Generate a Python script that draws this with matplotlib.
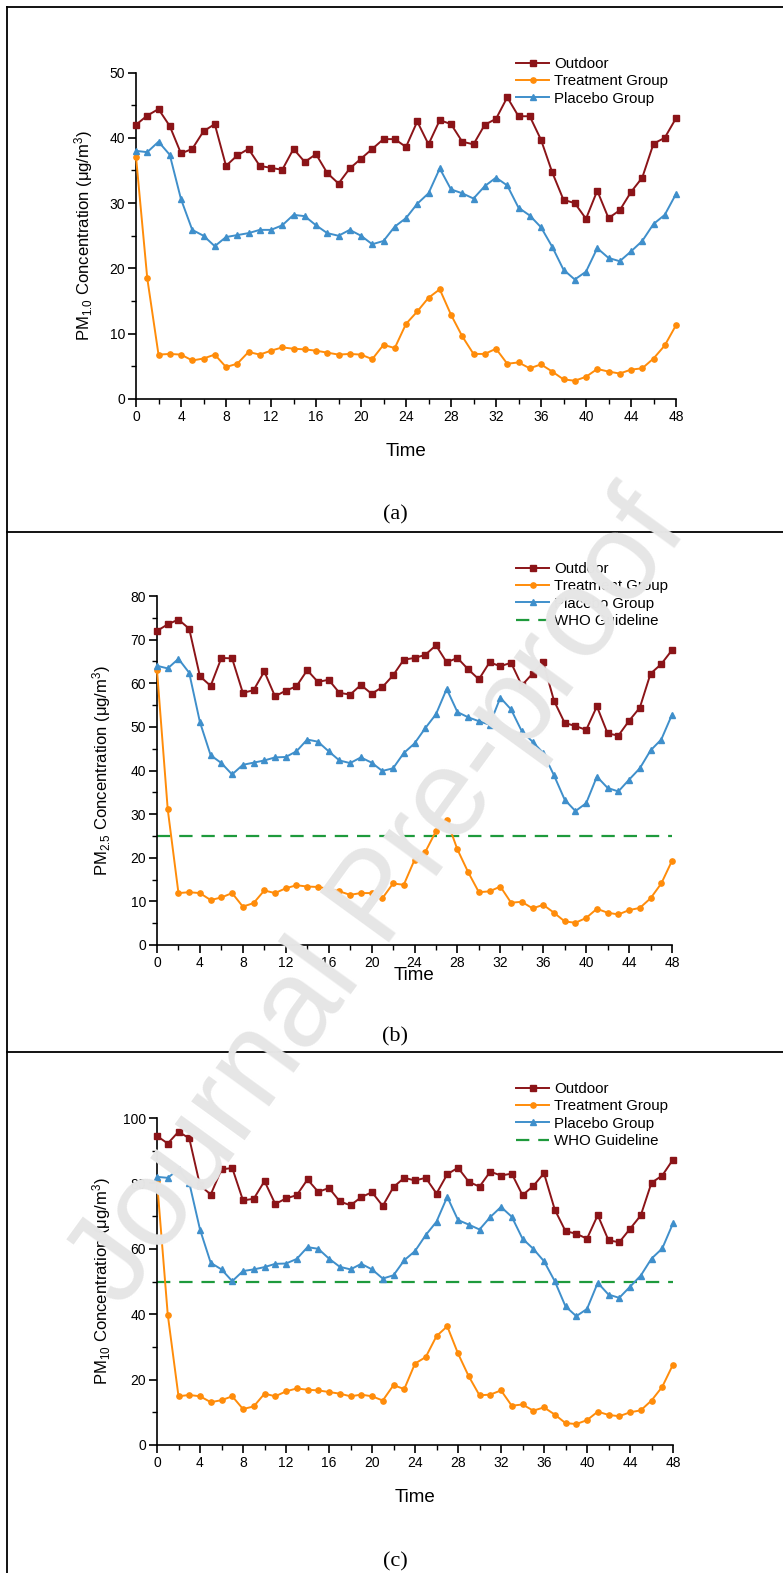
import matplotlib
matplotlib.use("Agg")
import matplotlib.pyplot as plt
from matplotlib.lines import Line2D
from matplotlib.ticker import MultipleLocator

plt.rcParams['font.family'] = ['Liberation Sans', 'DejaVu Sans']
plt.rcParams['mathtext.fontset'] = 'custom'
plt.rcParams['mathtext.rm'] = 'Liberation Sans'
plt.rcParams['mathtext.it'] = 'Liberation Sans:italic'
plt.rcParams['mathtext.bf'] = 'Liberation Sans:bold'

hours = list(range(49))

pm1_outdoor = [42.0, 43.4, 44.4, 41.8, 37.6, 38.3, 41.0, 42.1, 35.7, 37.3, 38.3, 35.7, 35.4, 35.1, 38.3,
               36.3, 37.5, 34.6, 33.0, 35.3, 36.8, 38.3, 39.8, 39.8, 38.6, 42.5, 39.0, 42.7, 42.1, 39.4,
               39.0, 42.0, 42.9, 46.2, 43.3, 43.3, 39.7, 34.7, 30.5, 30.0, 27.6, 31.9, 27.7, 28.9, 31.7,
               33.9, 39.1, 40.0, 43.0]
pm1_treatment = [37.1, 18.5, 6.8, 6.9, 6.8, 5.9, 6.2, 6.8, 4.9, 5.4, 7.2, 6.8, 7.4, 7.9, 7.7, 7.6, 7.4,
                 7.1, 6.8, 6.9, 6.8, 6.1, 8.3, 7.8, 11.5, 13.4, 15.5, 16.8, 12.9, 9.6, 6.9, 6.9, 7.7,
                 5.4, 5.6, 4.7, 5.3, 4.2, 3.0, 2.8, 3.4, 4.6, 4.2, 3.9, 4.5, 4.7, 6.2, 8.2, 11.3]
pm1_placebo = [38.0, 37.8, 39.4, 37.4, 30.6, 25.9, 25.0, 23.4, 24.8, 25.1, 25.4, 25.9, 25.9, 26.6, 28.2,
               28.0, 26.6, 25.4, 25.0, 25.9, 25.0, 23.7, 24.2, 26.4, 27.7, 29.9, 31.5, 35.3, 32.1, 31.5,
               30.7, 32.6, 33.9, 32.7, 29.3, 28.1, 26.3, 23.3, 19.8, 18.3, 19.5, 23.1, 21.6, 21.1, 22.6,
               24.2, 26.8, 28.2, 31.4]

pm25_outdoor = [72.0, 73.5, 74.6, 72.5, 61.6, 59.4, 65.8, 65.7, 57.8, 58.4, 62.7, 57.0, 58.3, 59.3, 63.0,
                60.3, 60.8, 57.8, 57.4, 59.6, 57.6, 59.1, 61.8, 65.4, 65.8, 66.5, 68.7, 64.8, 65.8, 63.2,
                60.9, 64.8, 63.9, 64.7, 59.5, 62.2, 64.8, 56.0, 50.9, 50.2, 49.3, 54.7, 48.5, 48.0, 51.4,
                54.4, 62.2, 64.4, 67.6]
pm25_treatment = [63.0, 31.1, 11.9, 12.1, 11.9, 10.3, 10.9, 11.9, 8.8, 9.6, 12.5, 11.9, 13.0, 13.7, 13.4,
                  13.3, 12.9, 12.3, 11.5, 11.9, 11.9, 10.7, 14.1, 13.8, 19.5, 21.3, 26.1, 28.7, 21.9, 16.7,
                  12.1, 12.3, 13.4, 9.7, 9.9, 8.4, 9.2, 7.4, 5.4, 5.1, 6.2, 8.3, 7.4, 7.0, 8.0, 8.5, 10.7,
                  14.1, 19.3]
pm25_placebo = [64.0, 63.4, 65.6, 62.4, 51.1, 43.5, 41.7, 39.1, 41.3, 41.8, 42.3, 43.0, 43.1, 44.4, 47.1,
                46.6, 44.4, 42.3, 41.7, 43.0, 41.8, 39.9, 40.5, 44.0, 46.2, 49.7, 52.9, 58.7, 53.4, 52.2,
                51.3, 50.5, 56.7, 54.0, 49.0, 46.6, 44.0, 38.9, 33.3, 30.7, 32.5, 38.6, 36.0, 35.2, 37.9,
                40.5, 44.6, 47.1, 52.8]

pm10_outdoor = [94.5, 92.2, 95.8, 93.8, 79.4, 76.6, 84.3, 84.7, 74.8, 75.3, 80.7, 73.7, 75.4, 76.4, 81.2,
                77.4, 78.6, 74.5, 73.3, 75.8, 77.3, 73.1, 78.9, 81.7, 80.9, 81.7, 76.9, 82.8, 84.8, 80.5,
                79.0, 83.6, 82.4, 83.0, 76.4, 79.2, 83.1, 72.0, 65.4, 64.6, 63.1, 70.3, 62.6, 62.0, 66.1,
                70.2, 80.2, 82.4, 87.3]
pm10_treatment = [80.7, 39.9, 14.9, 15.3, 14.9, 13.1, 13.7, 14.9, 11.0, 11.8, 15.7, 14.9, 16.4, 17.3, 16.9,
                  16.7, 16.2, 15.7, 14.9, 15.4, 14.9, 13.6, 18.3, 17.1, 24.9, 26.9, 33.3, 36.3, 28.0, 21.0,
                  15.2, 15.4, 16.7, 12.0, 12.4, 10.5, 11.5, 9.3, 6.7, 6.4, 7.6, 10.2, 9.2, 8.8, 10.0, 10.6,
                  13.6, 17.8, 24.6]
pm10_placebo = [82.0, 81.7, 84.3, 80.2, 65.9, 55.7, 53.7, 50.1, 53.2, 53.7, 54.4, 55.4, 55.5, 56.9, 60.5,
                60.0, 57.0, 54.5, 53.7, 55.4, 53.7, 50.9, 51.9, 56.5, 59.3, 64.2, 68.3, 75.9, 68.8, 67.4,
                65.9, 69.7, 72.8, 69.8, 63.1, 60.0, 56.2, 50.1, 42.4, 39.4, 41.6, 49.6, 46.0, 45.0, 48.4,
                51.8, 57.0, 60.1, 67.8]

who_pm25 = 25
who_pm10 = 50

series_labels = ['Outdoor', 'Treatment Group', 'Placebo Group']
captions = ['(a)', '(b)', '(c)']

W, H = 783, 1573
fig = plt.figure(figsize=(W / 100, H / 100), dpi=100)

c_out = '#8b1418'
c_trt = '#ff8c0a'
c_plc = '#3f8fcb'
c_who = '#1e9a3c'


def fx(px):
    return px / W


def fy(py):
    return 1 - py / H


panels = [
    dict(box=(136, 676, 72.5, 399), ylim=50, major=10, minor=5,
         data=(pm1_outdoor, pm1_treatment, pm1_placebo), who=None,
         ylabel='PM$_{1.0}$ Concentration (μg/m$^{3}$)', ylab_x=84, time_y=452,
         leg=(516, 57), cap_y=515),
    dict(box=(157, 672, 596, 945), ylim=80, major=10, minor=5,
         data=(pm25_outdoor, pm25_treatment, pm25_placebo), who=who_pm25,
         ylabel='PM$_{2.5}$ Concentration (μg/m$^{3}$)', ylab_x=102, time_y=975,
         leg=(516, 562), cap_y=1037),
    dict(box=(157, 673, 1118, 1445), ylim=100, major=20, minor=10,
         data=(pm10_outdoor, pm10_treatment, pm10_placebo), who=who_pm10,
         ylabel='PM$_{10}$ Concentration (μg/m$^{3}$)', ylab_x=102, time_y=1498,
         leg=(516, 1082), cap_y=1562),
]

for i, p in enumerate(panels):
    l, r, t, b = p['box']
    ax = fig.add_axes([fx(l), fy(b), fx(r) - fx(l), fy(t) - fy(b)])
    out, trt, plc = p['data']
    ax.plot(hours, out, color=c_out, marker='s', ms=3.8, lw=1.4, label=series_labels[0], clip_on=False, zorder=3)
    ax.plot(hours, trt, color=c_trt, marker='o', ms=3.8, lw=1.4, label=series_labels[1], clip_on=False, zorder=3)
    ax.plot(hours, plc, color=c_plc, marker='^', ms=4.2, lw=1.4, label=series_labels[2], clip_on=False, zorder=3)
    if p['who'] is not None:
        ax.axhline(p['who'], color=c_who, lw=1.6, ls=(0, (6, 4)), label='WHO Guideline', zorder=2)
    ax.set_xlim(0, 48)
    ax.set_ylim(0, p['ylim'])
    ax.xaxis.set_major_locator(MultipleLocator(4))
    ax.xaxis.set_minor_locator(MultipleLocator(2))
    ax.yaxis.set_major_locator(MultipleLocator(p['major']))
    ax.yaxis.set_minor_locator(MultipleLocator(p['minor']))
    for s in ('top', 'right'):
        ax.spines[s].set_visible(False)
    for s in ('left', 'bottom'):
        ax.spines[s].set_linewidth(1.2)
    ax.tick_params(which='major', direction='out', length=6, width=1.2, labelsize=10, pad=2)
    ax.tick_params(which='minor', direction='out', length=3.5, width=1.0)
    ax.patch.set_alpha(0)

    fig.text(fx(p['ylab_x']), fy((t + b) / 2), p['ylabel'], rotation=90, ha='center', va='center', fontsize=12)
    fig.text(fx((l + r) / 2), fy(p['time_y']), 'Time', ha='center', va='center', fontsize=13.5)
    lx, ly = p['leg']
    ax.legend(loc='upper left', bbox_to_anchor=(fx(lx), fy(ly)), bbox_transform=fig.transFigure,
              frameon=False, fontsize=10.8, handlelength=2.2, handletextpad=0.35, labelspacing=0.22,
              borderpad=0, borderaxespad=0)
    fig.text(fx(395), fy(p['cap_y']), captions[i], ha='center', va='center', fontsize=16,
             family=['Liberation Serif', 'DejaVu Serif'])

# table borders
for y in (7, 532, 1052):
    fig.add_artist(Line2D([fx(7), 1], [fy(y), fy(y)], color='black', lw=1.3))
fig.add_artist(Line2D([fx(7), fx(7)], [fy(7), 0], color='black', lw=1.3))

# watermark
fig.text(fx(380), fy(900), 'Journal Pre-proof', rotation=54, ha='center', va='center',
         fontsize=90, color='#e6e6e6', zorder=10, rotation_mode='anchor')

fig.savefig('out.png', dpi=100)
